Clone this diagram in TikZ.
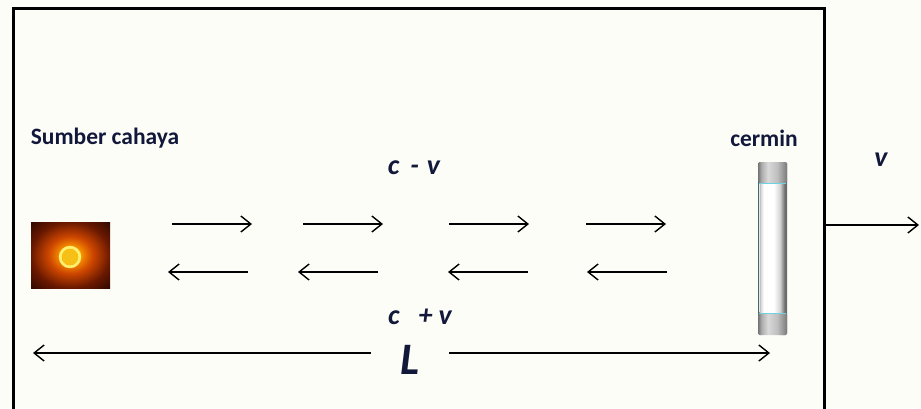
\documentclass[tikz,border=0pt]{standalone}
\usepackage{fontspec}
\setmainfont{Carlito}
\usetikzlibrary{arrows.meta}

\definecolor{latar}{RGB}{253,253,248}
\definecolor{tinta}{RGB}{18,24,58}
\definecolor{inti}{RGB}{245,180,0}
\definecolor{cincin}{RGB}{255,240,110}
\definecolor{jingga}{RGB}{240,130,0}
\definecolor{merah}{RGB}{205,70,0}
\definecolor{coklat}{RGB}{105,24,0}
\definecolor{gelap}{RGB}{45,8,0}
\definecolor{garis}{RGB}{110,210,225}

% cahaya dari sumber
\pgfdeclareradialshading{nyala}{\pgfpoint{0bp}{0bp}}{color(0bp)=(inti);
	color(5bp)=(inti); color(8bp)=(jingga); color(14bp)=(merah);
	color(25bp)=(coklat); color(36bp)=(gelap); color(50bp)=(gelap)}
% kaca cermin
\pgfdeclarehorizontalshading{kaca}{100bp}{color(0bp)=(gray!75!black);
	color(25bp)=(gray!75!black); color(29bp)=(gray!35); color(35bp)=(white);
	color(52bp)=(white); color(63bp)=(gray!35); color(71bp)=(gray!85!black);
	color(100bp)=(gray!85!black)}
\pgfdeclarehorizontalshading{kacagelap}{100bp}{color(0bp)=(gray!90!black);
	color(25bp)=(gray!90!black); color(31bp)=(gray!65); color(42bp)=(gray!30);
	color(58bp)=(gray!50); color(75bp)=(gray!95!black);
	color(100bp)=(gray!95!black)}

\tikzset{
	label/.style={text=tinta, inner sep=0pt, font=\fontsize{23.5}{26}\selectfont\bfseries},
	besaran/.style={text=tinta, inner sep=0pt, font=\fontsize{28}{30}\selectfont\bfseries\itshape},
	sinar/.style={line width=1.4pt, -{Straight Barb[length=10pt,width=16pt,line width=1.4pt]}}
}

\begin{document}
\begin{tikzpicture}[x=1pt, y=-1pt]
	\useasboundingbox (0,0) rectangle (921,408);
	\clip (0,0) rectangle (921,408);
	\fill[latar] (0,0) rectangle (921,408);

	% kotak
	\draw[line width=3pt] (13,420) -- (13,8) -- (824,8) -- (824,420);

	% sumber cahaya
	\shade[shading=nyala] (31,222) rectangle (110,288);
	\fill[inti!80!cincin] (70,257) circle (8);
	\draw[cincin, line width=2.8pt] (70,257) circle (9.8);
	\node[label] (sumber) at (105,138) {Sumber cahaya};

	% cermin
	\shade[shading=kaca, rounded corners=1.5pt] (758,162) rectangle (787,335);
	\shade[shading=kacagelap, rounded corners=1.5pt] (758,162) rectangle (787,183);
	\shade[shading=kacagelap, rounded corners=1.5pt] (758,313) rectangle (787,335);
	\draw[garis, line width=1pt] (759,183) -- (786,183);
	\draw[garis, line width=1pt] (759,313) -- (786,313);
	\draw[garis!35, line width=0.5pt] (759.5,184) -- (759.5,312);
	\node[label] (cermin) at (764,138) {cermin};

	% sinar pergi
	\foreach \xa/\xb [count=\i] in {172/252,303/383,449/529,586/666}
	{
		\coordinate (pergi\i) at (\xa,224);
		\coordinate (tiba\i) at (\xb,224);
		\draw[sinar] (pergi\i) -- (tiba\i);
	}
	% sinar pulang
	\foreach \xa/\xb [count=\i] in {248/168,378/298,528/448,667/587}
	{
		\coordinate (pantul\i) at (\xa,272);
		\coordinate (kembali\i) at (\xb,272);
		\draw[sinar] (pantul\i) -- (kembali\i);
	}
	\node[besaran] (lblpergi) at (414,168) {c\hspace{11pt}-\hspace{8pt}v};
	\node[besaran] (lblpulang) at (420,317) {c\hspace{19pt}+\hspace{6pt}v};

	% jarak L
	\node[text=tinta, inner sep=0pt, minimum width=78pt,
		font=\fontsize{45}{48}\selectfont\bfseries\itshape] (lblL) at (410,360) {L};
	\coordinate (ujungkiri) at (33,353);
	\coordinate (ujungkanan) at (770,353);
	\draw[sinar] (lblL.west |- ujungkiri) -- (ujungkiri);
	\draw[sinar] (lblL.east |- ujungkanan) -- (ujungkanan);

	% gerak v
	\coordinate (dinding) at (824,225);
	\coordinate (maju) at (919,225);
	\draw[sinar] (dinding) -- (maju);
	\node[besaran] (lblv) at (881,160) {v};
\end{tikzpicture}
\end{document}
